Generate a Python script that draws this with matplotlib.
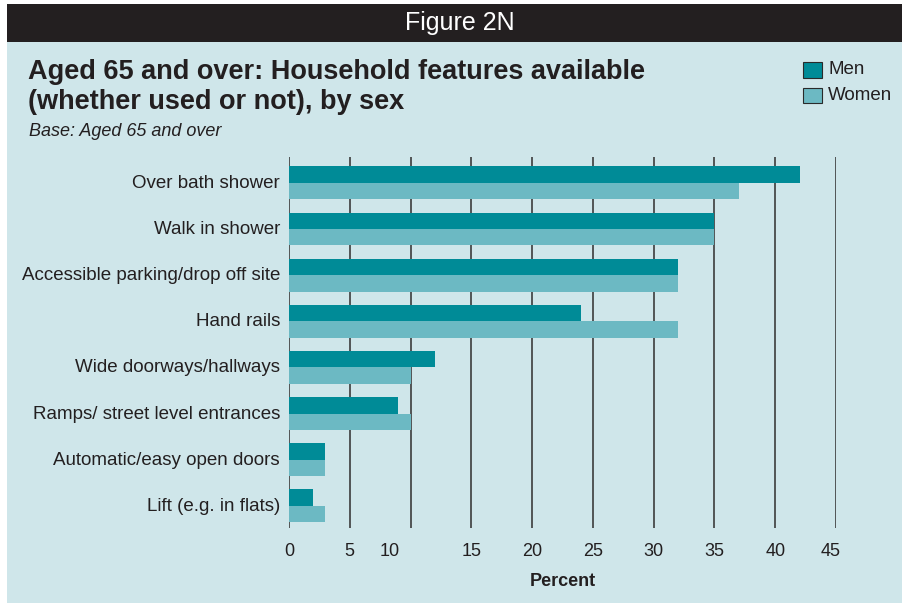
import matplotlib
matplotlib.use("Agg")
import matplotlib.pyplot as plt
from matplotlib.patches import Rectangle
from matplotlib.transforms import ScaledTranslation

# Household features available to people aged 65 and over (percent)
categories = [
    "Over bath shower",
    "Walk in shower",
    "Accessible parking/drop off site",
    "Hand rails",
    "Wide doorways/hallways",
    "Ramps/ street level entrances",
    "Automatic/easy open doors",
    "Lift (e.g. in flats)",
]
men = [42, 35, 32, 24, 12, 9, 3, 2]
women = [37, 35, 32, 32, 10, 10, 3, 3]
x_ticks = [0, 5, 10, 15, 20, 25, 30, 35, 40, 45]
x_tick_labels = ["0", "5", "10", "15", "20", "25", "30", "35", "40", "45"]

MEN_C = "#008b97"
WOMEN_C = "#6cb9c3"
PANEL = "#cfe6ea"
HEADER = "#231f20"
TEXT = "#231f20"
FONT = "Liberation Sans"

W, H = 902, 603
fig = plt.figure(figsize=(W / 100, H / 100), dpi=100)
fig.patch.set_facecolor("white")

def fx(px):
    return px / W

def fy(py):
    return 1 - py / H

# panel background and header band
fig.patches.append(Rectangle((fx(7), 0), 1 - fx(7), fy(4), transform=fig.transFigure,
                             facecolor=PANEL, edgecolor="none", zorder=-2))
fig.patches.append(Rectangle((fx(7), fy(42)), 1 - fx(7), fy(4) - fy(42), transform=fig.transFigure,
                             facecolor=HEADER, edgecolor="none", zorder=-1))
fig.text(fx(460), fy(23), "Figure 2N", color="white", fontsize=18, family=FONT,
         ha="center", va="center")

# titles
fig.text(fx(28), fy(72), "Aged 65 and over: Household features available", color=TEXT,
         fontsize=19.5, family=FONT, fontweight="bold", ha="left", va="center")
fig.text(fx(28), fy(102), "(whether used or not), by sex", color=TEXT,
         fontsize=19.5, family=FONT, fontweight="bold", ha="left", va="center")
fig.text(fx(29), fy(131), "Base: Aged 65 and over", color=TEXT, fontsize=13,
         family=FONT, style="italic", ha="left", va="center")

# legend
for i, (lab, col) in enumerate([("Men", MEN_C), ("Women", WOMEN_C)]):
    yc = 70 + i * 25.5
    fig.patches.append(Rectangle((fx(803), fy(yc + 8)), fx(19), fy(yc - 8) - fy(yc + 8),
                                 transform=fig.transFigure, facecolor=col,
                                 edgecolor="#2a2a2a", linewidth=0.8, zorder=2))
    fig.text(fx(828), fy(yc), lab, color=TEXT, fontsize=13.5, family=FONT,
             ha="left", va="center")

# chart area
ax = fig.add_axes([fx(289), fy(528), fx(836) - fx(289), fy(157) - fy(528)])
ax.set_zorder(5)
ax.set_facecolor("none")
ypos = list(range(len(categories)))
bh = 0.357
ax.barh([y - bh / 2 for y in ypos], men, height=bh, color=MEN_C, zorder=3)
ax.barh([y + bh / 2 for y in ypos], women, height=bh, color=WOMEN_C, zorder=3)

for t in x_ticks:
    ax.axvline(t, color="#3c3c3c", linewidth=1.2, zorder=1)

ax.set_xlim(0, 45)
ax.set_ylim(7.48, -0.56)
ax.set_yticks(ypos)
ax.set_yticklabels(categories, family=FONT, fontsize=13.5, color=TEXT)
ax.set_xticks(x_ticks)
ax.set_xticklabels(x_tick_labels, family=FONT, fontsize=13, color=TEXT)
ax.tick_params(axis="y", length=0, pad=6.5)
ax.tick_params(axis="x", length=0, pad=11)
for lbl in ax.get_yticklabels():
    lbl.set_transform(lbl.get_transform() + ScaledTranslation(0, 0.015, fig.dpi_scale_trans))
for lbl in ax.get_xticklabels():
    if lbl.get_text() == "10":
        lbl.set_transform(lbl.get_transform() + ScaledTranslation(-0.21, 0, fig.dpi_scale_trans))
    elif lbl.get_text() == "45":
        lbl.set_transform(lbl.get_transform() + ScaledTranslation(-0.05, 0, fig.dpi_scale_trans))
for s in ax.spines.values():
    s.set_visible(False)

ax.set_xlabel("Percent", family=FONT, fontsize=13, fontweight="bold", color=TEXT, labelpad=9)

fig.savefig("out.png", dpi=100, facecolor=fig.get_facecolor())
